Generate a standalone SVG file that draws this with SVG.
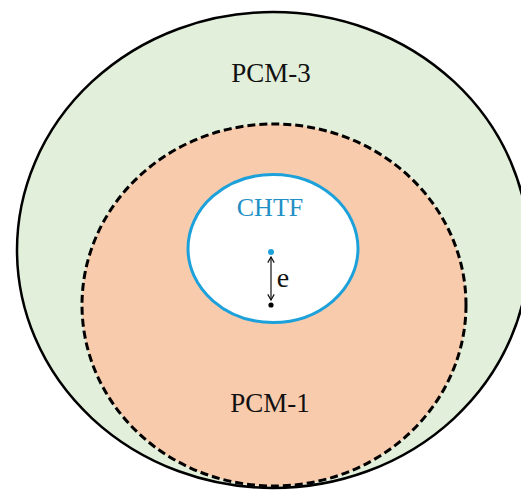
<svg xmlns="http://www.w3.org/2000/svg" width="521" height="490" viewBox="0 0 521 490">
<style>
text{font-family:'Liberation Serif','Times New Roman',serif;text-anchor:middle;fill:#111}
</style>
<defs>
<marker id="ah" viewBox="0 0 10 10" refX="9" refY="5" markerWidth="8" markerHeight="8" orient="auto-start-reverse" markerUnits="userSpaceOnUse">
<path d="M2,1 L9,5 L2,9" fill="none" stroke="#111" stroke-width="1.5"/>
</marker>
</defs>
<rect width="521" height="490" fill="#fff"/>
<g id="pcm3">
<ellipse cx="273" cy="250" rx="256" ry="238" fill="#e2efda" stroke="#000" stroke-width="2.5"/>
<text x="271" y="82" font-family="Liberation Serif, serif" font-size="27">PCM-3</text>
</g>
<g id="pcm1">
<ellipse cx="274" cy="305" rx="192" ry="181" fill="#f8cbad" stroke="#000" stroke-width="3" stroke-dasharray="8 4"/>
<text x="270" y="412" font-family="Liberation Serif, serif" font-size="27">PCM-1</text>
</g>
<g id="chtf">
<ellipse cx="273" cy="248.5" rx="85" ry="74" fill="#fff" stroke="#1da1db" stroke-width="3"/>
<text x="270" y="216" font-family="Liberation Serif, serif" font-size="26" fill="#1f8fc4" style="fill:#1f8fc4">CHTF</text>
<circle cx="271" cy="252" r="3" fill="#1da1db"/>
<circle cx="271" cy="305" r="2.6" fill="#000"/>
</g>
<g id="connectors">
<line x1="271" y1="257" x2="271" y2="300" stroke="#111" stroke-width="1.2" marker-start="url(#ah)" marker-end="url(#ah)"/>
<text x="283" y="287" font-family="Liberation Serif, serif" font-size="28">e</text>
</g>
</svg>
